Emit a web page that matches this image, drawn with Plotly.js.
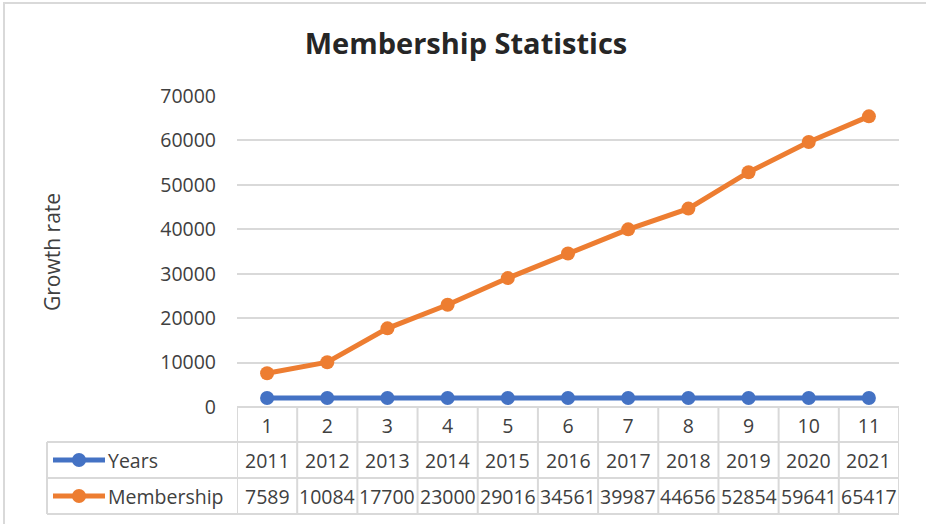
<!DOCTYPE html>
<html>
<head>
<meta charset="utf-8">
<script src="https://cdn.plot.ly/plotly-3.0.1.min.js"></script>
<style>html,body{margin:0;padding:0;background:#fff;}#chart{width:926px;height:524px;}</style>
</head>
<body>
<div id="chart"></div>
<script>
// ---- data ----
const categories = [1, 2, 3, 4, 5, 6, 7, 8, 9, 10, 11];
const years = [2011, 2012, 2013, 2014, 2015, 2016, 2017, 2018, 2019, 2020, 2021];
const membership = [7589, 10084, 17700, 23000, 29016, 34561, 39987, 44656, 52854, 59641, 65417];
const seriesNames = ['Years', 'Membership'];
const seriesColors = ['#4472C4', '#ED7D31'];
const yTicks = [0, 10000, 20000, 30000, 40000, 50000, 60000, 70000];

const FONT = 'Open Sans, Lato, sans-serif';
const TXT = '#404040';
const GRID = '#d9d9d9';
const FS = 19.5;

// layout geometry (pixels)
const W = 926, H = 524, ML = 237, MR = 27, MT = 96, MB = 117;
const PW = W - ML - MR, PH = H - MT - MB;
const px2x = p => (p - ML) / PW;          // pixel -> paper x
const py2y = p => (H - MB - p) / PH;      // pixel -> paper y

const rowTop = py2y(407), row1 = py2y(442), row2 = py2y(478), row3 = py2y(514);
const legLeft = px2x(47);

const traces = [
  {x: categories, y: years, name: seriesNames[0], type: 'scatter', mode: 'lines+markers',
   line: {color: seriesColors[0], width: 5}, marker: {color: seriesColors[0], size: 14}},
  {x: categories, y: membership, name: seriesNames[1], type: 'scatter', mode: 'lines+markers',
   line: {color: seriesColors[1], width: 5}, marker: {color: seriesColors[1], size: 14}}
];

const lineStyle = {color: GRID, width: 2};
const shapes = [];
// outer chart border
shapes.push({type: 'rect', xref: 'paper', yref: 'paper', x0: px2x(4), x1: px2x(940), y0: py2y(3), y1: py2y(540),
  line: {color: GRID, width: 2}, layer: 'below'});
// horizontal table lines
shapes.push({type: 'line', xref: 'x', yref: 'paper', x0: 0.5, x1: 11.5, y0: rowTop, y1: rowTop, line: lineStyle});
[row1, row2, row3].forEach(y => shapes.push({type: 'line', xref: 'paper', yref: 'paper', x0: legLeft, x1: 1, y0: y, y1: y, line: lineStyle}));
// vertical table lines
shapes.push({type: 'line', xref: 'paper', yref: 'paper', x0: legLeft, x1: legLeft, y0: row1, y1: row3, line: lineStyle});
shapes.push({type: 'line', xref: 'x', yref: 'paper', x0: 0.5, x1: 0.5, y0: rowTop, y1: row3, line: lineStyle});
categories.forEach(c => shapes.push({type: 'line', xref: 'x', yref: 'paper', x0: c + 0.5, x1: c + 0.5, y0: rowTop, y1: row3, line: lineStyle}));

// legend keys inside the table
const keyRows = [(row1 + row2) / 2, (row2 + row3) / 2];
keyRows.forEach((yy, i) => {
  shapes.push({type: 'line', xref: 'paper', yref: 'paper', x0: px2x(53), x1: px2x(105), y0: yy, y1: yy,
    line: {color: seriesColors[i], width: 5}});
  shapes.push({type: 'circle', xref: 'paper', yref: 'paper', xsizemode: 'pixel', ysizemode: 'pixel',
    xanchor: px2x(79), yanchor: yy, x0: -7, x1: 7, y0: -7, y1: 7,
    fillcolor: seriesColors[i], line: {width: 0}});
});

const annotations = [];
seriesNames.forEach((n, i) => annotations.push({xref: 'paper', yref: 'paper', x: px2x(106), y: keyRows[i],
  text: n, showarrow: false, xanchor: 'left', yanchor: 'middle', font: {family: FONT, size: FS, color: TXT}}));
categories.forEach((c, i) => {
  annotations.push({xref: 'x', yref: 'paper', x: c, y: keyRows[0], text: String(years[i]), showarrow: false,
    xanchor: 'center', yanchor: 'middle', font: {family: FONT, size: FS, color: TXT}});
  annotations.push({xref: 'x', yref: 'paper', x: c, y: keyRows[1], text: String(membership[i]), showarrow: false,
    xanchor: 'center', yanchor: 'middle', font: {family: FONT, size: FS, color: TXT}});
});
// y axis title
annotations.push({xref: 'paper', yref: 'paper', x: px2x(52), y: py2y(252), text: 'Growth rate', textangle: -90,
  showarrow: false, xanchor: 'center', yanchor: 'middle', font: {family: FONT, size: 21, color: TXT}});

const layout = {
  width: W, height: H,
  margin: {l: ML, r: MR, t: MT, b: MB, pad: 0},
  paper_bgcolor: '#fff', plot_bgcolor: '#fff',
  showlegend: false,
  title: {text: '<b>Membership Statistics</b>', x: 466 / W, xanchor: 'center', y: 1 - 44 / H, yanchor: 'middle',
    font: {family: FONT, size: 29, color: '#262626'}},
  xaxis: {range: [0.5, 11.5], tickvals: categories, ticktext: categories.map(String), showgrid: false,
    zeroline: false, showline: false, ticks: '', ticklabelstandoff: 5,
    tickfont: {family: FONT, size: FS, color: TXT}, fixedrange: true},
  yaxis: {range: [0, 70000], tickvals: yTicks, ticktext: yTicks.map(String), showgrid: true, gridcolor: GRID, gridwidth: 2,
    zeroline: false, showline: false, ticks: '', ticklabelstandoff: 20,
    tickfont: {family: FONT, size: FS, color: TXT}, automargin: false},
  shapes: shapes,
  annotations: annotations
};

Plotly.newPlot('chart', traces, layout, {displayModeBar: false, staticPlot: true});
</script>
</body>
</html>
